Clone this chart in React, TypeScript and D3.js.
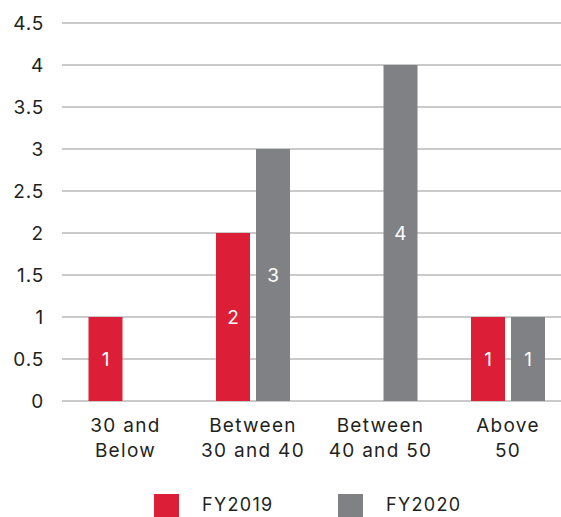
import React from "react";
import * as d3 from "d3";

const categories: string[][] = [["30 and", "Below"], ["Between", "30 and 40"], ["Between", "40 and 50"], ["Above", "50"]];
const seriesNames = ["FY2019", "FY2020"];
const fy2019: (number | null)[] = [1, 2, null, 1];
const fy2020: (number | null)[] = [null, 3, 4, 1];
const yTicks = [0, 0.5, 1, 1.5, 2, 2.5, 3, 3.5, 4, 4.5];
const colors = ["#DC1F36", "#808184"];

const W = 561, H = 517;
const FONT = "Inter, 'Noto Sans', sans-serif";

export default function App() {
  const x = d3.scaleBand<number>().domain(d3.range(categories.length)).range([61.75, 571.75]).paddingInner(0).paddingOuter(0);
  const y = d3.scaleLinear().domain([0, 4.5]).range([401, 23]);
  const barW = 34, gap = 6;
  const series = [fy2019, fy2020];
  return (
    <svg width={W} height={H} style={{ position: "absolute", left: 0, top: 0, display: "block" }} fontFamily={FONT}>
      <rect width={W} height={H} fill="#fff" />
      {yTicks.map((t) => (
        <g key={t}>
          <line x1={62} x2={W} y1={y(t)} y2={y(t)} stroke="#b8b8b8" strokeWidth={1.5} />
          <text x={44} y={y(t)} dy="0.35em" textAnchor="end" fontSize={19} letterSpacing={0.8} fill="#231f20">{t}</text>
        </g>
      ))}
      {categories.map((c, i) => {
        const cx = (x(i) as number) + x.bandwidth() / 2;
        return (
          <g key={i}>
            {series.map((s, k) => {
              const v = s[i];
              if (v == null) return null;
              const bx = cx - gap / 2 - barW + k * (barW + gap);
              return (
                <g key={k}>
                  <rect x={bx} y={y(v)} width={barW} height={y(0) - y(v)} fill={colors[k]} />
                  <text x={bx + barW / 2} y={(y(v) + y(0)) / 2} dy="0.35em" textAnchor="middle" fontSize={19} fill="#fff">{v}</text>
                </g>
              );
            })}
            {c.map((line, j) => (
              <text key={j} x={cx} y={425 + j * 25} dy="0.35em" textAnchor="middle" fontSize={19} letterSpacing={1.3} fill="#231f20">{line}</text>
            ))}
          </g>
        );
      })}
      {seriesNames.map((n, k) => (
        <g key={n} transform={`translate(${154 + k * 184},494)`}>
          <rect x={0} y={0} width={25} height={23} fill={colors[k]} />
          <text x={48} y={17} fontSize={18} letterSpacing={1.3} fill="#231f20">{n}</text>
        </g>
      ))}
    </svg>
  );
}
